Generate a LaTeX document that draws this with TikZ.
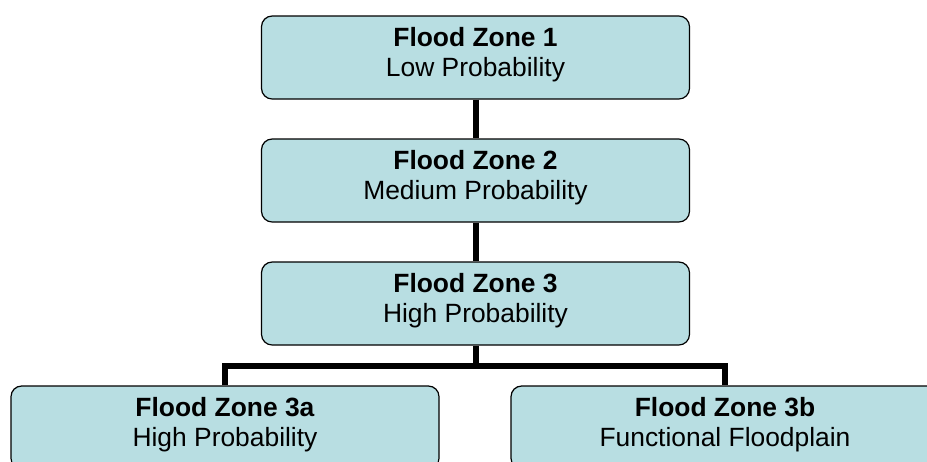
\documentclass[tikz,border=0pt]{standalone}
\usepackage{fontspec}
\setmainfont{Liberation Sans}
\definecolor{zonefill}{RGB}{184,222,226}
\begin{document}
\begin{tikzpicture}[x=0.75pt, y=-0.75pt]
\tikzstyle{zone}=[draw=black, line width=0.9pt, fill=zonefill, rounded corners=8pt,
  minimum width=321pt, minimum height=62.25pt, align=center, text depth=8.5pt,
  font=\fontsize{19.8pt}{22pt}\selectfont]
\tikzstyle{link}=[black, line width=4.5pt]
\clip (0,0) rectangle (927,461);
\useasboundingbox (0,0) rectangle (927,461);
\node [zone] (z1) at (475.5,57.5) {\textbf{Flood Zone 1}\\Low Probability};
\node [zone] (z2) at (475.5,180.5) {\textbf{Flood Zone 2}\\Medium Probability};
\node [zone] (z3) at (475.5,303.5) {\textbf{Flood Zone 3}\\High Probability};
\node [zone] (z3a) at (225,427.5) {\textbf{Flood Zone 3a}\\High Probability};
\node [zone] (z3b) at (725,427.5) {\textbf{Flood Zone 3b}\\Functional Floodplain};
\coordinate (j) at (475.5,366);
\draw [link] (z1.south) -- (z2.north);
\draw [link] (z2.south) -- (z3.north);
\draw [link] (z3.south) -- (j);
\draw [link] (z3a.north) |- (j) -| (z3b.north);
\end{tikzpicture}
\end{document}
